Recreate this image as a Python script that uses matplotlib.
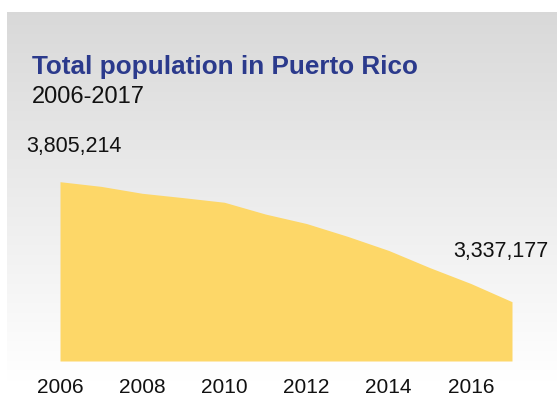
import numpy as np
import matplotlib
matplotlib.use("Agg")
import matplotlib.pyplot as plt

years = [2006, 2007, 2008, 2009, 2010, 2011, 2012, 2013, 2014, 2015, 2016, 2017]
population = [3805214, 3787000, 3760000, 3743000, 3725000, 3679000,
              3642000, 3592000, 3537000, 3470000, 3408000, 3337177]
tick_years = [2006, 2008, 2010, 2012, 2014, 2016]
title = "Total population in Puerto Rico"
subtitle = "2006-2017"

W, H = 557, 400
fig = plt.figure(figsize=(W / 100, H / 100), dpi=100)
fig.patch.set_facecolor("white")

# gradient background panel
bg = fig.add_axes([7 / W, 0, 1 - 7 / W, 1 - 12 / H])
bg.set_axis_off()
grad = np.linspace(0, 1, 256).reshape(-1, 1)
top = np.array([0.85, 0.85, 0.85])
bot = np.array([1.0, 1.0, 1.0])
t = np.clip(grad / 0.95, 0, 1)
img = top * (1 - t[..., None]) + bot * t[..., None]
img = np.repeat(img, 2, axis=1)
bg.imshow(img, aspect="auto", extent=[0, 1, 0, 1], origin="upper")
bg.set_xlim(0, 1)
bg.set_ylim(0, 1)

# main axes
left_px, right_px = 60, 512
base_px, top_px = 361, 181.7
scale = (population[0] - population[-1]) / (301.7 - 181.7)
ymin = population[0] - (base_px - top_px) * scale
ax = fig.add_axes([left_px / W, (H - base_px) / H, (right_px - left_px) / W, (base_px - top_px) / H])
ax.patch.set_alpha(0)
ax.fill_between(years, population, ymin, color="#FDD768", linewidth=0)
ax.set_xlim(years[0], years[-1])
ax.set_ylim(ymin, population[0])
for s in ax.spines.values():
    s.set_visible(False)
ax.set_yticks([])
ax.set_xticks(tick_years)
ax.set_xticklabels([str(y) for y in tick_years])
ax.tick_params(axis="x", length=0, pad=12, labelsize=15, labelcolor="#111111")
for lbl in ax.get_xticklabels():
    lbl.set_fontfamily("Liberation Sans")

ax.annotate(f"{population[0]:,}", (years[0], population[0]), xytext=(10, 25.7),
            textcoords="offset points", ha="center", va="center",
            fontsize=15.5, family="Liberation Sans", color="#111111", annotation_clip=False)
ax.annotate(f"{population[-1]:,}", (years[-1], population[-1]), xytext=(-7.9, 35.8),
            textcoords="offset points", ha="center", va="center",
            fontsize=15.5, family="Liberation Sans", color="#111111", annotation_clip=False)

fig.text(32 / W, 1 - 74 / H, title, fontsize=18.8, fontweight="bold",
         family="Liberation Sans", color="#2B3A8C", va="baseline", ha="left")
fig.text(32 / W, 1 - 103 / H, subtitle, fontsize=17,
         family="Liberation Sans", color="#111111", va="baseline", ha="left")

fig.savefig("out.png", dpi=100)
